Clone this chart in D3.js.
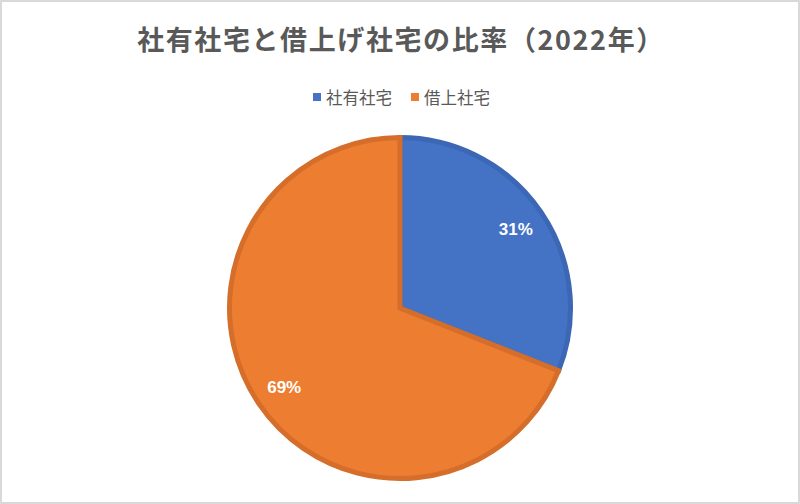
<!DOCTYPE html>
<html>
<head>
<meta charset="utf-8">
<script src="https://cdn.jsdelivr.net/npm/d3@7"></script>
<style>
  html, body { margin: 0; padding: 0; background: #fff; }
  svg { display: block; }
</style>
</head>
<body>
<svg id="chart" width="800" height="504"></svg>
<script>
const title = "社有社宅と借上げ社宅の比率（2022年）";
const categories = ["社有社宅", "借上社宅"];
const values = [31, 69];
const fillColors = ["#4472c4", "#ed7d31"];
const strokeColors = ["#3b67b5", "#d56e2a"];

const W = 800, H = 504;
const svg = d3.select("#chart");

svg.append("rect")
  .attr("x", 1).attr("y", 1).attr("width", W - 2).attr("height", H - 2)
  .attr("fill", "#fff").attr("stroke", "#d9d9d9").attr("stroke-width", 2);

svg.append("text")
  .attr("x", W / 2 + 1).attr("y", 50)
  .attr("text-anchor", "middle")
  .attr("font-family", "'Noto Sans CJK JP', sans-serif")
  .attr("font-weight", "bold")
  .attr("font-size", 27)
  .attr("letter-spacing", 1.6)
  .attr("fill", "#595959")
  .text(title);

// legend
const legendItems = [
  { x: 313, tx: 326 },
  { x: 411, tx: 424 }
];
const lg = svg.append("g");
categories.forEach((c, i) => {
  lg.append("rect")
    .attr("x", legendItems[i].x).attr("y", 93)
    .attr("width", 8).attr("height", 8)
    .attr("fill", fillColors[i]);
  lg.append("text")
    .attr("x", legendItems[i].tx).attr("y", 103.5)
    .attr("font-family", "'Noto Sans CJK JP', sans-serif")
    .attr("font-size", 16.5)
    .attr("fill", "#595959")
    .text(c);
});

// pie
const cx = 400, cy = 308, R = 170.5;
const pie = d3.pie().sort(null).value(d => d)(values);
const arc = d3.arc().innerRadius(0).outerRadius(R);
const labelArc = d3.arc().innerRadius(140).outerRadius(140);
const total = d3.sum(values);

const g = svg.append("g").attr("transform", `translate(${cx},${cy})`);
g.selectAll("path.slice")
  .data(pie)
  .enter().append("path")
  .attr("class", "slice")
  .attr("d", arc)
  .attr("fill", (d, i) => fillColors[i])
  .attr("stroke", (d, i) => strokeColors[i])
  .attr("stroke-width", 5)
  .attr("stroke-linejoin", "miter");

g.selectAll("text.lbl")
  .data(pie)
  .enter().append("text")
  .attr("class", "lbl")
  .attr("transform", d => {
    const [x, y] = labelArc.centroid(d);
    return `translate(${x},${y})`;
  })
  .attr("text-anchor", "middle")
  .attr("dy", "0.36em")
  .attr("font-family", "'Liberation Sans', Arial, sans-serif")
  .attr("font-weight", "bold")
  .attr("font-size", 17)
  .attr("fill", "#ffffff")
  .text(d => Math.round(d.value / total * 100) + "%");
</script>
</body>
</html>
